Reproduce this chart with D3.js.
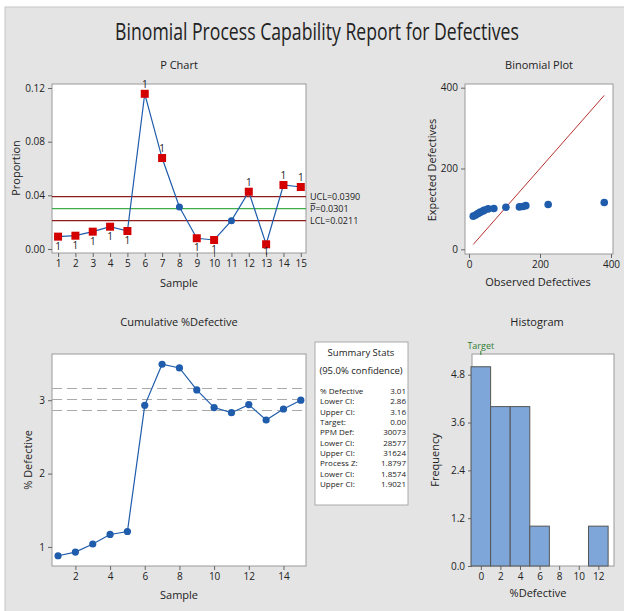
<!DOCTYPE html>
<html>
<head>
<meta charset="utf-8">
<script src="https://cdn.jsdelivr.net/npm/d3@7"></script>
<style>
  body { margin: 0; background: #fff; }
  text { font-family: "Open Sans", "Noto Sans", sans-serif; fill: #222; }
  .tick text { font-size: 10px; }
  .tick line { stroke: #666; }
</style>
</head>
<body>
<main></main>
<script>
// data
const samples = [1, 2, 3, 4, 5, 6, 7, 8, 9, 10, 11, 12, 13, 14, 15]
const proportion = [0.0092, 0.0099, 0.0129, 0.0166, 0.0134, 0.1157, 0.0678, 0.0313,
  0.0080, 0.0067, 0.0211, 0.0427, 0.0035, 0.0477, 0.0462]
const ucl = 0.0390, pbar = 0.0301, lcl = 0.0211
const pTicks = [0, 0.04, 0.08, 0.12]

const cumPct = [0.88, 0.93, 1.04, 1.17, 1.21, 2.93, 3.49, 3.44, 3.14, 2.90, 2.83, 2.94, 2.73, 2.88, 3.00]
const ciLines = [3.16, 3.01, 2.86]

const observed = [28, 32, 40, 54, 44, 381, 223, 104, 24, 19, 70, 142, 12, 160, 152]
const expected = [90, 92, 95, 100, 97, 116, 111, 104, 88, 85, 101, 105, 82, 108, 106]

const binEdges = [-1, 1, 3, 5, 7, 9, 11, 13]
const binCounts = [5, 4, 4, 1, 0, 0, 1]
const freqTicks = [0, 1.2, 2.4, 3.6, 4.8]
const pctTicks = [0, 2, 4, 6, 8, 10, 12]
const target = 0

const statLabels = ['% Defective', 'Lower CI:', 'Upper CI:', 'Target:', 'PPM Def:',
  'Lower CI:', 'Upper CI:', 'Process Z:', 'Lower CI:', 'Upper CI:']
const statValues = ['3.01', '2.86', '3.16', '0.00', '30073', '28577', '31624', '1.8797', '1.8574', '1.9021']

const blue = '#1f5cab'
const svg = d3.select('main').append('svg')
  .attr('width', 624).attr('height', 611)

svg.append('rect').attr('x', 5).attr('y', 7).attr('width', 625).attr('height', 610)
  .attr('fill', '#e4e4e4').attr('stroke', '#c6c6c6')

// title: natural width, then squeezed horizontally to the reference width
const title = svg.append('text').attr('text-anchor', 'middle').attr('font-size', 23)
  .text('Binomial Process Capability Report for Defectives')
const tw = title.node().getComputedTextLength()
title.attr('transform', `translate(317,40) scale(${404 / tw},1)`)

function frame(x0, y0, x1, y1) {
  svg.append('rect').attr('x', x0).attr('y', y0).attr('width', x1 - x0).attr('height', y1 - y0)
    .attr('fill', '#fff').attr('stroke', '#9a9a9a')
}
function label(x, y, s, size, rotate) {
  svg.append('text').attr('text-anchor', 'middle').attr('font-size', size || 11)
    .attr('transform', `translate(${x},${y})` + (rotate ? ' rotate(-90)' : ''))
    .text(s)
}
function axes(x, y, xt, yt, xfmt, yfmt, bottom, left) {
  svg.append('g').attr('transform', `translate(0,${bottom})`)
    .call(d3.axisBottom(x).tickValues(xt).tickFormat(xfmt).tickSize(4).tickPadding(3))
    .call(g => g.select('.domain').remove())
  svg.append('g').attr('transform', `translate(${left},0)`)
    .call(d3.axisLeft(y).tickValues(yt).tickFormat(yfmt).tickSize(4).tickPadding(3))
    .call(g => g.select('.domain').remove())
}

// ---- P chart
{
  const x = d3.scaleLinear().domain([0.65, 15.3]).range([52, 306])
  const y = d3.scaleLinear().domain([-0.003, 0.123]).range([253, 84])
  frame(52, 84, 306, 253)
  axes(x, y, samples, pTicks, d3.format('d'), d3.format('.2f'), 253, 52)
  label(179, 69, 'P Chart', 11)
  label(179, 287, 'Sample', 11)
  label(20, 168, 'Proportion', 11, true)

  const lims = [[ucl, '#8e1c1c'], [pbar, '#3dae49'], [lcl, '#8e1c1c']]
  svg.selectAll('.lim').data(lims).enter().append('line')
    .attr('x1', 52).attr('x2', 306)
    .attr('y1', d => y(d[0])).attr('y2', d => y(d[0]))
    .attr('stroke', d => d[1]).attr('stroke-width', 1.3)
  const limText = ['UCL=0.0390', 'P=0.0301', 'LCL=0.0211']
  svg.selectAll('.limtxt').data(limText).enter().append('text')
    .attr('x', 310).attr('y', (d, i) => 199.5 + i * 12)
    .attr('font-size', 9).text(d => d)
  svg.append('line').attr('x1', 310.5).attr('x2', 315.5).attr('y1', 203.5).attr('y2', 203.5)
    .attr('stroke', '#222').attr('stroke-width', 0.8)

  const pts = samples.map((s, i) => ({ s, v: proportion[i] }))
  svg.append('path').datum(pts)
    .attr('fill', 'none').attr('stroke', blue).attr('stroke-width', 1.2)
    .attr('d', d3.line().x(d => x(d.s)).y(d => y(d.v)))
  const out = pts.filter(d => d.v > ucl || d.v < lcl)
  const inn = pts.filter(d => !(d.v > ucl || d.v < lcl))
  svg.selectAll('.pin').data(inn).enter().append('circle')
    .attr('cx', d => x(d.s)).attr('cy', d => y(d.v)).attr('r', 3.5).attr('fill', blue)
  svg.selectAll('.pout').data(out).enter().append('rect')
    .attr('x', d => x(d.s) - 4).attr('y', d => y(d.v) - 4)
    .attr('width', 8).attr('height', 8).attr('fill', '#d40000')
  svg.selectAll('.pone').data(out).enter().append('text')
    .attr('x', d => x(d.s))
    .attr('y', d => d.v > ucl ? y(d.v) - 6 : Math.min(y(d.v) + 13, 255))
    .attr('text-anchor', 'middle').attr('font-size', 10).text('1')
}

// ---- Binomial plot
{
  const x = d3.scaleLinear().domain([0, 400]).range([469, 611])
  const y = d3.scaleLinear().domain([0, 400]).range([249.3, 87.7])
  frame(465, 84, 613, 254)
  axes(x, y, [0, 200, 400], [0, 200, 400], d3.format('d'), d3.format('d'), 254, 465)
  label(539, 69, 'Binomial Plot', 11)
  label(538, 286, 'Observed Defectives', 11)
  label(436, 170, 'Expected Defectives', 11, true)
  const ext = d3.extent(observed)
  svg.append('line').attr('x1', x(ext[0])).attr('y1', y(ext[0]))
    .attr('x2', x(ext[1])).attr('y2', y(ext[1]))
    .attr('stroke', '#b5312f').attr('stroke-width', 1)
  svg.selectAll('.bp').data(observed).enter().append('circle')
    .attr('cx', d => x(d)).attr('cy', (d, i) => y(expected[i])).attr('r', 3.8).attr('fill', blue)
}

// ---- Cumulative %Defective
{
  const x = d3.scaleLinear().domain([0.65, 15.3]).range([52, 306])
  const y = d3.scaleLinear().domain([0.74, 3.63]).range([566, 354])
  frame(52, 354, 306, 566)
  axes(x, y, [2, 4, 6, 8, 10, 12, 14], [1, 2, 3], d3.format('d'), d3.format('d'), 566, 52)
  label(179, 326, 'Cumulative %Defective', 11)
  label(179, 599, 'Sample', 11)
  label(32, 460, '% Defective', 11, true)
  svg.selectAll('.ci').data(ciLines).enter().append('line')
    .attr('x1', 52).attr('x2', 306).attr('y1', d => y(d)).attr('y2', d => y(d))
    .attr('stroke', '#aaa').attr('stroke-width', 1.2).attr('stroke-dasharray', '10,5')
  const pts = samples.map((s, i) => ({ s, v: cumPct[i] }))
  svg.append('path').datum(pts)
    .attr('fill', 'none').attr('stroke', blue).attr('stroke-width', 1.2)
    .attr('d', d3.line().x(d => x(d.s)).y(d => y(d.v)))
  svg.selectAll('.cp').data(pts).enter().append('circle')
    .attr('cx', d => x(d.s)).attr('cy', d => y(d.v)).attr('r', 3.6).attr('fill', blue)
}

// ---- Summary stats box
{
  svg.append('rect').attr('x', 315).attr('y', 342).attr('width', 93).attr('height', 163)
    .attr('fill', '#fff').attr('stroke', '#aaa')
  label(361, 356, 'Summary Stats', 9.5)
  label(361, 374, '(95.0% confidence)', 9.5)
  const rows = svg.selectAll('.st').data(statLabels).enter().append('g')
    .attr('transform', (d, i) => `translate(0,${394 + i * 10.35})`)
  rows.append('text').attr('x', 320).attr('font-size', 8).text(d => d)
  rows.append('text').attr('x', 406).attr('text-anchor', 'end').attr('font-size', 8)
    .text((d, i) => statValues[i])
}

// ---- Histogram
{
  const x = d3.scaleLinear().domain([-0.9, 13.6]).range([472, 614])
  const y = d3.scaleLinear().domain([0, 5.32]).range([566, 354])
  frame(472, 354, 614, 566)
  axes(x, y, pctTicks, freqTicks, d3.format('d'), d3.format('.1f'), 566, 472)
  label(537, 326, 'Histogram', 11)
  label(538, 597, '%Defective', 11)
  label(439, 460, 'Frequency', 11, true)
  const bins = binCounts.map((c, i) => ({ x0: binEdges[i], x1: binEdges[i + 1], c }))
  svg.selectAll('.bar').data(bins.filter(d => d.c > 0)).enter().append('rect')
    .attr('x', d => x(d.x0)).attr('width', d => x(d.x1) - x(d.x0))
    .attr('y', d => y(d.c)).attr('height', d => y(0) - y(d.c))
    .attr('fill', '#7ea6d8').attr('stroke', '#555').attr('stroke-width', 1)
  svg.append('line').attr('x1', x(target)).attr('x2', x(target)).attr('y1', 351).attr('y2', 355)
    .attr('stroke', '#2e7d32')
  svg.append('text').attr('x', x(target)).attr('y', 349).attr('text-anchor', 'middle')
    .attr('font-size', 9).style('fill', '#2e7d32').text('Target')
}
</script>
</body>
</html>
